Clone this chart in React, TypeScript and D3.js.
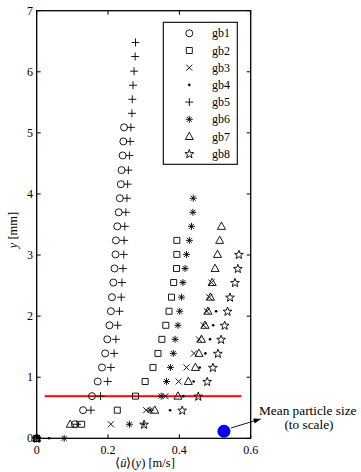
import { useEffect, useRef } from "react";
import * as d3 from "d3";

// measurement heights [mm]
const yLevels = [
  0, 0.23, 0.46, 0.69, 0.93, 1.16, 1.39, 1.62, 1.85, 2.08, 2.31, 2.55, 2.78,
  3.01, 3.24, 3.47, 3.7, 3.93, 4.16, 4.39, 4.63, 4.86, 5.09, 5.32, 5.55, 5.78,
  6.01, 6.25, 6.48,
];

// mean velocity [m/s] per height, one array per run
const gb1 = [
  0, 0.107, 0.13, 0.155, 0.171, 0.183, 0.192, 0.198, 0.204, 0.208, 0.211,
  0.215, 0.218, 0.221, 0.222, 0.226, 0.23, 0.233, 0.236, 0.238, 0.241, 0.243,
  0.245,
];
const gb2 = [
  0, 0.126, 0.226, 0.277, 0.304, 0.326, 0.34, 0.351, 0.362, 0.371, 0.378,
  0.384, 0.392, 0.393, 0.393,
];
const gb3 = [
  0, 0.208, 0.307, 0.361, 0.398, 0.42, 0.441, 0.455, 0.468, 0.477, 0.484, 0.49,
];
const gb4 = [0.035, 0.3, 0.374, 0.411, 0.44, 0.457, 0.473, 0.486, 0.495, 0.503];
const gb5 = [
  0, 0.113, 0.152, 0.179, 0.199, 0.208, 0.217, 0.222, 0.227, 0.232, 0.237,
  0.239, 0.242, 0.244, 0.245, 0.247, 0.25, 0.253, 0.255, 0.257, 0.26, 0.262,
  0.264, 0.267, 0.268, 0.27, 0.273, 0.276, 0.277,
];
const gb6 = [
  0.077, 0.26, 0.318, 0.349, 0.364, 0.375, 0.383, 0.388, 0.396, 0.401, 0.406,
  0.41, 0.416, 0.42, 0.428, 0.434, 0.438, 0.439,
];
const gb7 = [
  0, 0.094, 0.331, 0.396, 0.425, 0.445, 0.455, 0.462, 0.472, 0.48, 0.487,
  0.492, 0.5, 0.507, 0.513, 0.518,
];
const gb8 = [
  0, 0.301, 0.408, 0.453, 0.478, 0.494, 0.508, 0.517, 0.527, 0.535, 0.542,
  0.556, 0.564, 0.567,
];

const seriesNames = ["gb1", "gb2", "gb3", "gb4", "gb5", "gb6", "gb7", "gb8"];
const seriesValues = [gb1, gb2, gb3, gb4, gb5, gb6, gb7, gb8];
const seriesMarkers = [
  "circle",
  "square",
  "times",
  "dot",
  "plus",
  "asterisk",
  "triangle",
  "star",
];

const xTicks = [0, 0.2, 0.4, 0.6];
const xTickLabels = ["0", "0.2", "0.4", "0.6"];
const yTicks = [0, 1, 2, 3, 4, 5, 6, 7];

// red reference line and particle-size marker
const redLineY = 0.69;
const redLineX = [0.0225, 0.574];
const particle = { x: 0.525, y: 0.115 };
const arrowFrom = { x: 0.545, y: 0.17 };
const arrowTo = { x: 0.628, y: 0.316 };

const width = 361;
const height = 472;
const margin = { top: 10.7, right: 110.3, bottom: 33.7, left: 36.7 };
const font = '"Liberation Serif", "Times New Roman", serif';

const markerPath = (kind: string): string => {
  switch (kind) {
    case "circle":
      return "M3.5,0A3.5,3.5 0 1,1 -3.5,0A3.5,3.5 0 1,1 3.5,0Z";
    case "square":
      return "M-3,-3H3V3H-3Z";
    case "times":
      return "M-3,-3L3,3M-3,3L3,-3";
    case "dot":
      return "M1.3,0A1.3,1.3 0 1,1 -1.3,0A1.3,1.3 0 1,1 1.3,0Z";
    case "plus":
      return "M-4,0H4M0,-4V4";
    case "asterisk":
      return "M-3.5,0H3.5M0,-3.5V3.5M-2.5,-2.5L2.5,2.5M-2.5,2.5L2.5,-2.5";
    case "triangle":
      return "M0,-4.3L4,3L-4,3Z";
    case "star": {
      const pts = d3.range(10).map((i) => {
        const r = i % 2 === 0 ? 4.6 : 1.9;
        const a = (i * Math.PI) / 5 - Math.PI / 2;
        return [r * Math.cos(a), r * Math.sin(a) + 0.4];
      });
      return "M" + pts.map((p) => p.join(",")).join("L") + "Z";
    }
  }
  return "";
};

const App = () => {
  const svgRef = useRef<SVGSVGElement>(null);

  const xScale = d3
    .scaleLinear()
    .domain([0, 0.6])
    .range([margin.left, width - margin.right]);
  const yScale = d3
    .scaleLinear()
    .domain([0, 7])
    .range([height - margin.bottom, margin.top]);

  useEffect(() => {
    if (!svgRef.current) return;
    const svg = d3.select(svgRef.current);
    svg.selectAll("*").remove();

    const x0 = margin.left;
    const x1 = width - margin.right;
    const y0 = height - margin.bottom;
    const y1 = margin.top;

    // ticks (inside, all four sides)
    const ticks = svg.append("g").attr("stroke", "black").attr("stroke-width", 1);
    xTicks.forEach((t) => {
      ticks.append("line").attr("x1", xScale(t)).attr("x2", xScale(t)).attr("y1", y0).attr("y2", y0 - 4);
      ticks.append("line").attr("x1", xScale(t)).attr("x2", xScale(t)).attr("y1", y1).attr("y2", y1 + 4);
    });
    yTicks.forEach((t) => {
      ticks.append("line").attr("x1", x0).attr("x2", x0 + 4).attr("y1", yScale(t)).attr("y2", yScale(t));
      ticks.append("line").attr("x1", x1).attr("x2", x1 - 4).attr("y1", yScale(t)).attr("y2", yScale(t));
    });

    // frame
    svg
      .append("rect")
      .attr("x", x0)
      .attr("y", y1)
      .attr("width", x1 - x0)
      .attr("height", y0 - y1)
      .attr("fill", "none")
      .attr("stroke", "black")
      .attr("stroke-width", 1.3);

    // tick labels
    svg
      .append("g")
      .selectAll("text")
      .data(xTicks)
      .enter()
      .append("text")
      .attr("x", (d) => xScale(d))
      .attr("y", 454)
      .attr("text-anchor", "middle")
      .attr("font-family", font)
      .attr("font-size", 12)
      .text((_, i) => xTickLabels[i]);
    svg
      .append("g")
      .selectAll("text")
      .data(yTicks)
      .enter()
      .append("text")
      .attr("x", 33)
      .attr("y", (d) => yScale(d) + 4)
      .attr("text-anchor", "end")
      .attr("font-family", font)
      .attr("font-size", 12)
      .text((d) => String(d));

    // axis labels
    const xl = svg
      .append("text")
      .attr("x", 145)
      .attr("y", 467)
      .attr("text-anchor", "middle")
      .attr("font-family", font)
      .attr("font-size", 12.5);
    xl.append("tspan").text("⟨");
    xl.append("tspan").attr("font-style", "italic").text("u\u0304");
    xl.append("tspan").text("⟩(");
    xl.append("tspan").attr("font-style", "italic").text("y");
    xl.append("tspan").text(") [m/s]");

    const yl = svg
      .append("text")
      .attr("transform", `translate(17,230) rotate(-90)`)
      .attr("text-anchor", "middle")
      .attr("font-family", font)
      .attr("font-size", 12.5);
    yl.append("tspan").attr("font-style", "italic").text("y");
    yl.append("tspan").text(" [mm]");

    // red line
    svg
      .append("line")
      .attr("x1", xScale(redLineX[0]))
      .attr("x2", xScale(redLineX[1]))
      .attr("y1", yScale(redLineY))
      .attr("y2", yScale(redLineY))
      .attr("stroke", "#ff0000")
      .attr("stroke-width", 2);

    // data markers
    seriesValues.forEach((vals, si) => {
      const kind = seriesMarkers[si];
      svg
        .append("g")
        .selectAll("path")
        .data(vals)
        .enter()
        .append("path")
        .attr("transform", (d, i) => `translate(${xScale(d)},${yScale(yLevels[i])})`)
        .attr("d", markerPath(kind))
        .attr("fill", kind === "dot" ? "black" : "none")
        .attr("stroke", "black")
        .attr("stroke-width", kind === "dot" ? 0 : 0.9);
    });

    // particle size marker + annotation
    svg
      .append("circle")
      .attr("cx", xScale(particle.x))
      .attr("cy", yScale(particle.y))
      .attr("r", 6.5)
      .attr("fill", "#0000ff");

    const ax1 = xScale(arrowFrom.x);
    const ay1 = yScale(arrowFrom.y);
    const ax2 = xScale(arrowTo.x);
    const ay2 = yScale(arrowTo.y);
    svg
      .append("line")
      .attr("x1", ax1)
      .attr("y1", ay1)
      .attr("x2", ax2)
      .attr("y2", ay2)
      .attr("stroke", "black")
      .attr("stroke-width", 0.9);
    const ang = Math.atan2(ay2 - ay1, ax2 - ax1);
    const hl = 7;
    const hw = 2.6;
    const bx = ax2 - hl * Math.cos(ang);
    const by = ay2 - hl * Math.sin(ang);
    svg
      .append("path")
      .attr(
        "d",
        `M${ax2},${ay2}L${bx - hw * Math.sin(ang)},${by + hw * Math.cos(ang)}L${bx + hw * Math.sin(ang)},${by - hw * Math.cos(ang)}Z`,
      )
      .attr("fill", "black");

    svg
      .append("text")
      .attr("x", 259)
      .attr("y", 415)
      .attr("font-family", font)
      .attr("font-size", 13.3)
      .text("Mean particle size");
    svg
      .append("text")
      .attr("x", 309)
      .attr("y", 429)
      .attr("text-anchor", "middle")
      .attr("font-family", font)
      .attr("font-size", 13.3)
      .text("(to scale)");

    // legend
    const lg = svg.append("g");
    lg.append("rect")
      .attr("x", 163.3)
      .attr("y", 22.3)
      .attr("width", 74)
      .attr("height", 142)
      .attr("fill", "white")
      .attr("stroke", "black")
      .attr("stroke-width", 1.1);
    seriesNames.forEach((name, i) => {
      const ly = 33.3 + i * 17.2;
      const kind = seriesMarkers[i];
      lg.append("path")
        .attr("transform", `translate(189.3,${ly})`)
        .attr("d", markerPath(kind))
        .attr("fill", kind === "dot" ? "black" : "none")
        .attr("stroke", "black")
        .attr("stroke-width", kind === "dot" ? 0 : 0.9);
      lg.append("text")
        .attr("x", 212)
        .attr("y", ly + 4)
        .attr("font-family", font)
        .attr("font-size", 12)
        .text(name);
    });
  }, [xScale, yScale]);

  return (
    <svg
      ref={svgRef}
      width={width}
      height={height}
      style={{ position: "absolute", left: 0, top: 0, background: "white" }}
    ></svg>
  );
};

export default App;
